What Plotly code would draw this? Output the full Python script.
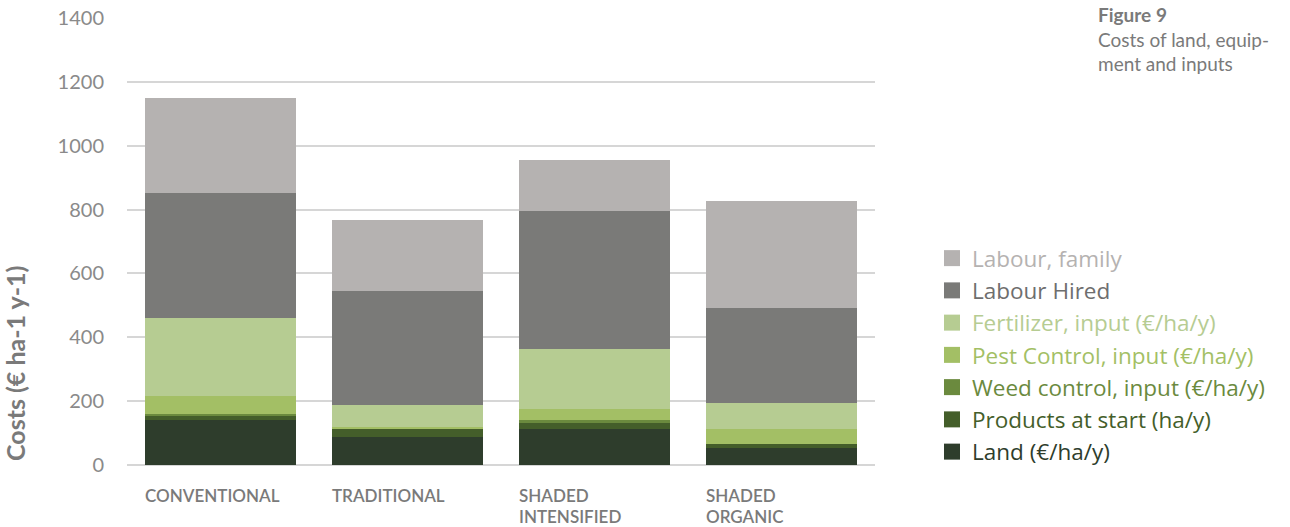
import plotly.graph_objects as go

categories = ["CONVENTIONAL", "TRADITIONAL", "SHADED INTENSIFIED", "SHADED ORGANIC"]
label_line1 = ["CONVENTIONAL", "TRADITIONAL", "SHADED", "SHADED"]
label_line2 = ["", "", "INTENSIFIED", "ORGANIC"]

land = [140, 88, 113, 53]
products_at_start = [13, 25, 19, 13]
weed_control = [7, 0, 9, 0]
pest_control = [56, 6, 34, 47]
fertilizer = [244, 69, 188, 81]
labour_hired = [392, 357, 433, 298]
labour_family = [298, 222, 159, 335]

y_ticks = [0, 200, 400, 600, 800, 1000, 1200, 1400]

series = [
    ("Land (€/ha/y)", land, "#2e3d2c", "#2e3d2c"),
    ("Products at start (ha/y)", products_at_start, "#445e2a", "#445e2a"),
    ("Weed control, input (€/ha/y)", weed_control, "#6b8a3e", "#6b8a3e"),
    ("Pest Control, input (€/ha/y)", pest_control, "#a3bf65", "#a3bf65"),
    ("Fertilizer, input (€/ha/y)", fertilizer, "#b6cc92", "#b6cc92"),
    ("Labour Hired", labour_hired, "#7a7a78", "#6e6e6e"),
    ("Labour, family", labour_family, "#b5b2b1", "#b5b2b1"),
]

fig = go.Figure()
for name, vals, col, tcol in series:
    fig.add_trace(go.Bar(
        x=categories, y=vals, name=name, showlegend=False,
        marker=dict(color=col, line=dict(width=0)),
    ))
# legend entries with larger square swatches
for name, vals, col, tcol in series:
    fig.add_trace(go.Scatter(
        x=[None], y=[None], mode="markers",
        name=f'<span style="color:{tcol}">{name}</span>',
        marker=dict(symbol="square", size=18, color=col),
    ))

font_family = "Lato, 'Open Sans', sans-serif"

W, H = 1290, 527
L, R, T, B = 127, 415, 18, 62
pw = W - L - R
ph = H - T - B

fig.update_layout(
    barmode="stack",
    bargap=0.19,
    width=W, height=H,
    margin=dict(l=L, r=R, t=T, b=B, autoexpand=False),
    plot_bgcolor="white", paper_bgcolor="white",
    font=dict(family=font_family, color="#7a7a7a"),
    showlegend=True,
    legend=dict(
        traceorder="reversed",
        xref="container", yref="container",
        x=932 / W, y=1 - 237 / H, xanchor="left", yanchor="top",
        font=dict(size=22.5, family="'Open Sans', Lato, sans-serif"),
        itemclick=False,
        tracegroupgap=0,
        itemsizing="trace",
    ),
    xaxis=dict(showticklabels=False, showgrid=False, zeroline=False, showline=False,
               categoryorder="array", categoryarray=categories, automargin=False),
    yaxis=dict(range=[0, 1400], tickvals=y_ticks, showgrid=True, gridcolor="#d6d6d6",
               gridwidth=1.5, zeroline=True, zerolinecolor="#d6d6d6", zerolinewidth=1.5,
               showline=False, ticks="", ticklabelstandoff=22, automargin=False,
               tickfont=dict(size=20, color="#8a8a8a", family=font_family)),
)

annotations = []
lab_font = dict(size=17, color="#7a7a7a", family=font_family, weight=600)
for cat, l1, l2 in zip(categories, label_line1, label_line2):
    for txt, ys in ((l1, -30), (l2, -51)):
        if not txt:
            continue
        annotations.append(dict(
            x=cat, xref="x", y=0, yref="paper", yanchor="middle", xanchor="left",
            xshift=-78, yshift=ys, text=txt, showarrow=False, align="left",
            font=lab_font,
        ))

annotations.append(dict(
    x=(15 - L) / pw, xref="paper", y=(465 - 364) / ph, yref="paper", showarrow=False,
    xanchor="center", yanchor="middle",
    text="<b>Costs (€ ha-1 y-1)</b>", textangle=-90,
    font=dict(size=25, color="#7a7a7a", family=font_family),
))
annotations.append(dict(
    x=(1096 - L) / pw, y=(465 - 1) / ph, xref="paper", yref="paper", showarrow=False,
    text="<b>Figure 9</b><br>Costs of land, equip-<br>ment and inputs",
    align="left", xanchor="left", yanchor="top",
    font=dict(size=19, color="#7a7a7a", family=font_family),
))
fig.update_layout(annotations=annotations)

fig.write_html("out.html", config={"displayModeBar": False},
               post_script="document.body.style.margin='0';")
